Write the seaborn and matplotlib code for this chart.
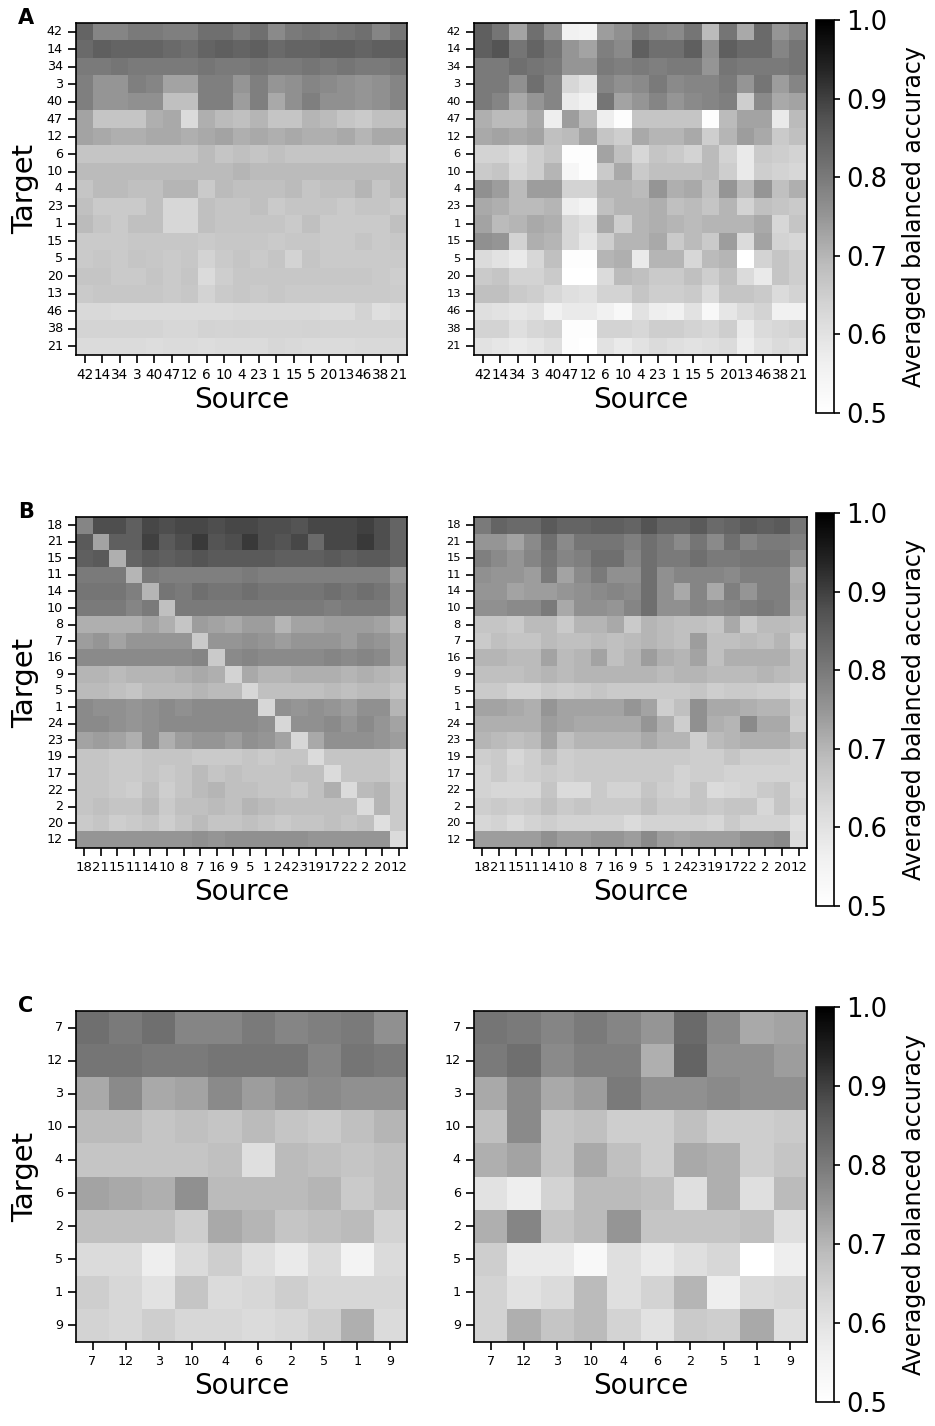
import matplotlib
matplotlib.use('Agg')
import matplotlib.pyplot as plt
import seaborn as sns
import pandas as pd

# ---------------------------------------------------------
# Datos: precisión balanceada promedio (fuente -> objetivo)
# ---------------------------------------------------------
labels_a = ['42', '14', '34', '3', '40', '47', '12', '6', '10', '4',
            '23', '1', '15', '5', '20', '13', '46', '38', '21']

acc_a_left = [
    [0.84, 0.78, 0.78, 0.80, 0.80, 0.79, 0.79, 0.82, 0.82, 0.80, 0.82, 0.77, 0.80, 0.81, 0.80, 0.81, 0.82, 0.78, 0.81],
    [0.83, 0.85, 0.84, 0.84, 0.84, 0.83, 0.82, 0.84, 0.85, 0.84, 0.85, 0.83, 0.84, 0.84, 0.85, 0.85, 0.84, 0.85, 0.85],
    [0.80, 0.80, 0.81, 0.80, 0.80, 0.80, 0.80, 0.81, 0.80, 0.80, 0.81, 0.80, 0.80, 0.81, 0.80, 0.81, 0.80, 0.80, 0.81],
    [0.79, 0.75, 0.75, 0.79, 0.78, 0.73, 0.73, 0.79, 0.79, 0.75, 0.79, 0.75, 0.76, 0.78, 0.77, 0.76, 0.75, 0.76, 0.78],
    [0.79, 0.75, 0.75, 0.76, 0.76, 0.68, 0.68, 0.79, 0.79, 0.74, 0.79, 0.72, 0.76, 0.79, 0.76, 0.76, 0.75, 0.76, 0.78],
    [0.73, 0.67, 0.67, 0.67, 0.71, 0.72, 0.62, 0.71, 0.69, 0.68, 0.70, 0.67, 0.67, 0.70, 0.69, 0.67, 0.66, 0.68, 0.68],
    [0.73, 0.72, 0.71, 0.71, 0.72, 0.72, 0.71, 0.72, 0.73, 0.71, 0.72, 0.71, 0.72, 0.71, 0.71, 0.72, 0.70, 0.72, 0.72],
    [0.67, 0.67, 0.67, 0.67, 0.67, 0.67, 0.67, 0.69, 0.67, 0.68, 0.67, 0.68, 0.67, 0.67, 0.67, 0.67, 0.67, 0.67, 0.65],
    [0.69, 0.69, 0.69, 0.69, 0.69, 0.69, 0.69, 0.69, 0.69, 0.70, 0.69, 0.69, 0.69, 0.69, 0.69, 0.69, 0.69, 0.69, 0.69],
    [0.67, 0.69, 0.69, 0.68, 0.68, 0.70, 0.70, 0.66, 0.69, 0.68, 0.68, 0.68, 0.69, 0.67, 0.68, 0.68, 0.70, 0.67, 0.69],
    [0.68, 0.66, 0.66, 0.66, 0.68, 0.63, 0.63, 0.68, 0.67, 0.67, 0.68, 0.66, 0.67, 0.67, 0.67, 0.66, 0.67, 0.67, 0.66],
    [0.69, 0.67, 0.66, 0.68, 0.68, 0.63, 0.63, 0.68, 0.67, 0.67, 0.67, 0.67, 0.66, 0.68, 0.66, 0.66, 0.66, 0.66, 0.68],
    [0.66, 0.66, 0.66, 0.665, 0.665, 0.665, 0.665, 0.66, 0.665, 0.665, 0.665, 0.66, 0.665, 0.665, 0.66, 0.66, 0.67, 0.66, 0.665],
    [0.66, 0.665, 0.66, 0.67, 0.665, 0.66, 0.665, 0.64, 0.66, 0.67, 0.66, 0.67, 0.64, 0.67, 0.66, 0.66, 0.66, 0.66, 0.66],
    [0.67, 0.67, 0.66, 0.66, 0.67, 0.66, 0.67, 0.62, 0.65, 0.665, 0.665, 0.665, 0.665, 0.665, 0.665, 0.665, 0.665, 0.66, 0.65],
    [0.66, 0.665, 0.665, 0.665, 0.665, 0.66, 0.665, 0.64, 0.66, 0.665, 0.66, 0.665, 0.66, 0.66, 0.66, 0.66, 0.66, 0.66, 0.655],
    [0.625, 0.625, 0.62, 0.62, 0.62, 0.62, 0.62, 0.62, 0.62, 0.625, 0.625, 0.625, 0.625, 0.625, 0.62, 0.62, 0.64, 0.61, 0.62],
    [0.635, 0.635, 0.635, 0.635, 0.635, 0.63, 0.63, 0.64, 0.635, 0.64, 0.635, 0.635, 0.635, 0.64, 0.635, 0.635, 0.635, 0.635, 0.635],
    [0.62, 0.62, 0.62, 0.62, 0.615, 0.62, 0.62, 0.615, 0.62, 0.62, 0.62, 0.63, 0.625, 0.62, 0.62, 0.62, 0.625, 0.625, 0.625],
]

acc_a_right = [
    [0.85, 0.81, 0.73, 0.82, 0.76, 0.56, 0.55, 0.74, 0.76, 0.80, 0.78, 0.77, 0.81, 0.69, 0.81, 0.72, 0.83, 0.75, 0.78],
    [0.85, 0.87, 0.81, 0.84, 0.81, 0.75, 0.73, 0.79, 0.77, 0.85, 0.82, 0.82, 0.85, 0.76, 0.85, 0.83, 0.83, 0.78, 0.81],
    [0.80, 0.80, 0.82, 0.81, 0.80, 0.75, 0.75, 0.80, 0.79, 0.80, 0.79, 0.80, 0.80, 0.75, 0.81, 0.80, 0.80, 0.80, 0.81],
    [0.80, 0.80, 0.76, 0.82, 0.78, 0.63, 0.60, 0.78, 0.76, 0.77, 0.80, 0.77, 0.78, 0.78, 0.80, 0.75, 0.81, 0.74, 0.78],
    [0.80, 0.78, 0.72, 0.75, 0.78, 0.58, 0.56, 0.81, 0.73, 0.75, 0.78, 0.75, 0.77, 0.78, 0.79, 0.65, 0.77, 0.72, 0.73],
    [0.71, 0.69, 0.69, 0.72, 0.57, 0.74, 0.69, 0.57, 0.51, 0.67, 0.67, 0.67, 0.67, 0.51, 0.69, 0.73, 0.73, 0.58, 0.69],
    [0.72, 0.73, 0.72, 0.73, 0.68, 0.69, 0.73, 0.67, 0.65, 0.72, 0.70, 0.70, 0.72, 0.65, 0.70, 0.74, 0.72, 0.66, 0.68],
    [0.64, 0.64, 0.62, 0.65, 0.67, 0.51, 0.51, 0.73, 0.68, 0.63, 0.67, 0.66, 0.64, 0.69, 0.64, 0.58, 0.66, 0.65, 0.64],
    [0.66, 0.67, 0.63, 0.65, 0.70, 0.54, 0.51, 0.66, 0.72, 0.66, 0.68, 0.68, 0.68, 0.69, 0.65, 0.58, 0.65, 0.64, 0.63],
    [0.76, 0.74, 0.69, 0.74, 0.74, 0.64, 0.64, 0.70, 0.70, 0.69, 0.75, 0.71, 0.72, 0.68, 0.75, 0.69, 0.75, 0.68, 0.71],
    [0.72, 0.71, 0.69, 0.69, 0.70, 0.57, 0.55, 0.68, 0.70, 0.70, 0.71, 0.68, 0.69, 0.67, 0.70, 0.64, 0.68, 0.67, 0.66],
    [0.73, 0.69, 0.70, 0.72, 0.71, 0.63, 0.61, 0.72, 0.65, 0.70, 0.71, 0.70, 0.69, 0.70, 0.70, 0.70, 0.72, 0.63, 0.67],
    [0.76, 0.75, 0.64, 0.71, 0.70, 0.63, 0.59, 0.65, 0.70, 0.70, 0.72, 0.66, 0.69, 0.66, 0.74, 0.62, 0.73, 0.64, 0.63],
    [0.62, 0.60, 0.58, 0.63, 0.68, 0.51, 0.51, 0.70, 0.71, 0.58, 0.70, 0.70, 0.63, 0.69, 0.70, 0.50, 0.64, 0.67, 0.65],
    [0.66, 0.67, 0.64, 0.64, 0.66, 0.50, 0.50, 0.62, 0.69, 0.68, 0.66, 0.66, 0.68, 0.65, 0.68, 0.62, 0.58, 0.67, 0.65],
    [0.68, 0.68, 0.66, 0.65, 0.63, 0.61, 0.60, 0.64, 0.64, 0.67, 0.65, 0.65, 0.66, 0.62, 0.67, 0.67, 0.66, 0.62, 0.64],
    [0.61, 0.60, 0.59, 0.60, 0.56, 0.58, 0.58, 0.56, 0.53, 0.60, 0.57, 0.56, 0.60, 0.53, 0.59, 0.62, 0.64, 0.56, 0.56],
    [0.64, 0.64, 0.61, 0.63, 0.64, 0.51, 0.51, 0.64, 0.64, 0.63, 0.65, 0.65, 0.64, 0.63, 0.65, 0.58, 0.62, 0.63, 0.64],
    [0.60, 0.59, 0.58, 0.59, 0.61, 0.51, 0.50, 0.60, 0.58, 0.60, 0.62, 0.61, 0.60, 0.61, 0.62, 0.57, 0.60, 0.62, 0.61],
]

labels_b = ['18', '21', '15', '11', '14', '10', '8', '7', '16', '9',
            '5', '1', '24', '23', '19', '17', '22', '2', '20', '12']

acc_b_left = [
    [0.78, 0.88, 0.88, 0.85, 0.89, 0.88, 0.89, 0.89, 0.88, 0.89, 0.89, 0.88, 0.88, 0.87, 0.89, 0.89, 0.89, 0.90, 0.88, 0.84],
    [0.86, 0.73, 0.85, 0.85, 0.90, 0.86, 0.88, 0.91, 0.87, 0.88, 0.91, 0.88, 0.87, 0.89, 0.83, 0.89, 0.89, 0.91, 0.88, 0.84],
    [0.85, 0.86, 0.71, 0.84, 0.86, 0.85, 0.86, 0.87, 0.86, 0.86, 0.86, 0.86, 0.85, 0.85, 0.85, 0.86, 0.85, 0.86, 0.86, 0.84],
    [0.80, 0.80, 0.80, 0.70, 0.80, 0.79, 0.79, 0.79, 0.79, 0.79, 0.80, 0.79, 0.79, 0.79, 0.79, 0.79, 0.79, 0.79, 0.79, 0.75],
    [0.81, 0.81, 0.81, 0.79, 0.70, 0.81, 0.80, 0.82, 0.81, 0.81, 0.82, 0.81, 0.81, 0.81, 0.81, 0.82, 0.81, 0.82, 0.81, 0.77],
    [0.80, 0.80, 0.80, 0.78, 0.80, 0.68, 0.80, 0.80, 0.80, 0.80, 0.80, 0.80, 0.80, 0.80, 0.80, 0.79, 0.80, 0.80, 0.80, 0.77],
    [0.71, 0.71, 0.71, 0.71, 0.73, 0.71, 0.67, 0.74, 0.73, 0.72, 0.74, 0.74, 0.70, 0.73, 0.73, 0.74, 0.74, 0.74, 0.73, 0.70],
    [0.74, 0.75, 0.73, 0.75, 0.75, 0.75, 0.75, 0.66, 0.75, 0.75, 0.76, 0.75, 0.74, 0.75, 0.75, 0.75, 0.74, 0.76, 0.75, 0.73],
    [0.77, 0.77, 0.77, 0.77, 0.77, 0.77, 0.77, 0.78, 0.66, 0.77, 0.78, 0.77, 0.77, 0.77, 0.77, 0.78, 0.77, 0.78, 0.77, 0.73],
    [0.70, 0.70, 0.69, 0.70, 0.70, 0.70, 0.71, 0.72, 0.71, 0.64, 0.72, 0.70, 0.70, 0.71, 0.71, 0.71, 0.70, 0.71, 0.70, 0.69],
    [0.69, 0.69, 0.68, 0.67, 0.69, 0.69, 0.69, 0.70, 0.69, 0.69, 0.63, 0.68, 0.68, 0.68, 0.68, 0.69, 0.68, 0.69, 0.69, 0.67],
    [0.77, 0.76, 0.76, 0.75, 0.76, 0.77, 0.76, 0.77, 0.77, 0.77, 0.77, 0.63, 0.76, 0.75, 0.76, 0.75, 0.74, 0.76, 0.76, 0.70],
    [0.77, 0.77, 0.76, 0.75, 0.76, 0.77, 0.77, 0.77, 0.77, 0.77, 0.77, 0.76, 0.63, 0.76, 0.76, 0.77, 0.75, 0.77, 0.75, 0.73],
    [0.73, 0.74, 0.73, 0.71, 0.76, 0.71, 0.74, 0.75, 0.75, 0.74, 0.76, 0.75, 0.73, 0.63, 0.72, 0.76, 0.76, 0.76, 0.75, 0.74],
    [0.67, 0.67, 0.66, 0.66, 0.67, 0.67, 0.67, 0.66, 0.66, 0.66, 0.67, 0.66, 0.67, 0.67, 0.62, 0.67, 0.67, 0.67, 0.67, 0.65],
    [0.67, 0.67, 0.66, 0.66, 0.67, 0.66, 0.67, 0.69, 0.67, 0.68, 0.67, 0.67, 0.67, 0.68, 0.68, 0.62, 0.67, 0.67, 0.67, 0.65],
    [0.67, 0.67, 0.66, 0.65, 0.68, 0.65, 0.67, 0.69, 0.70, 0.68, 0.68, 0.67, 0.67, 0.66, 0.68, 0.71, 0.62, 0.69, 0.70, 0.66],
    [0.67, 0.68, 0.67, 0.67, 0.69, 0.66, 0.68, 0.68, 0.69, 0.68, 0.70, 0.69, 0.68, 0.68, 0.68, 0.68, 0.68, 0.62, 0.70, 0.66],
    [0.66, 0.67, 0.65, 0.66, 0.67, 0.65, 0.67, 0.69, 0.67, 0.67, 0.68, 0.67, 0.66, 0.67, 0.67, 0.68, 0.67, 0.68, 0.61, 0.66],
    [0.75, 0.75, 0.75, 0.75, 0.75, 0.75, 0.75, 0.76, 0.75, 0.76, 0.76, 0.76, 0.76, 0.76, 0.75, 0.75, 0.75, 0.75, 0.75, 0.62],
]

acc_b_right = [
    [0.80, 0.84, 0.83, 0.83, 0.86, 0.84, 0.84, 0.85, 0.85, 0.84, 0.87, 0.84, 0.84, 0.86, 0.83, 0.84, 0.86, 0.85, 0.86, 0.81],
    [0.75, 0.75, 0.73, 0.77, 0.82, 0.77, 0.81, 0.81, 0.81, 0.79, 0.82, 0.80, 0.77, 0.81, 0.77, 0.82, 0.78, 0.80, 0.80, 0.79],
    [0.79, 0.77, 0.75, 0.78, 0.81, 0.78, 0.79, 0.82, 0.82, 0.78, 0.82, 0.80, 0.80, 0.82, 0.80, 0.80, 0.81, 0.81, 0.81, 0.76],
    [0.76, 0.75, 0.75, 0.74, 0.80, 0.73, 0.77, 0.80, 0.76, 0.76, 0.82, 0.76, 0.78, 0.78, 0.78, 0.77, 0.79, 0.79, 0.79, 0.71],
    [0.75, 0.75, 0.73, 0.74, 0.74, 0.75, 0.76, 0.77, 0.78, 0.77, 0.82, 0.76, 0.72, 0.78, 0.72, 0.79, 0.75, 0.79, 0.79, 0.72],
    [0.76, 0.76, 0.77, 0.77, 0.80, 0.72, 0.76, 0.76, 0.75, 0.78, 0.82, 0.76, 0.76, 0.78, 0.77, 0.78, 0.79, 0.80, 0.79, 0.71],
    [0.67, 0.67, 0.66, 0.69, 0.69, 0.66, 0.70, 0.70, 0.72, 0.66, 0.70, 0.69, 0.68, 0.68, 0.67, 0.72, 0.66, 0.69, 0.69, 0.68],
    [0.66, 0.68, 0.67, 0.67, 0.69, 0.68, 0.68, 0.69, 0.68, 0.69, 0.70, 0.69, 0.68, 0.74, 0.68, 0.68, 0.69, 0.68, 0.70, 0.65],
    [0.70, 0.70, 0.69, 0.69, 0.73, 0.69, 0.70, 0.73, 0.68, 0.70, 0.74, 0.71, 0.70, 0.73, 0.68, 0.71, 0.71, 0.71, 0.71, 0.68],
    [0.68, 0.68, 0.68, 0.69, 0.70, 0.69, 0.70, 0.70, 0.70, 0.70, 0.70, 0.69, 0.70, 0.70, 0.69, 0.69, 0.69, 0.70, 0.69, 0.68],
    [0.66, 0.66, 0.64, 0.64, 0.66, 0.65, 0.66, 0.67, 0.66, 0.66, 0.66, 0.66, 0.66, 0.67, 0.65, 0.66, 0.66, 0.65, 0.65, 0.63],
    [0.73, 0.73, 0.72, 0.71, 0.75, 0.73, 0.73, 0.73, 0.73, 0.75, 0.73, 0.65, 0.68, 0.76, 0.72, 0.72, 0.71, 0.70, 0.70, 0.66],
    [0.71, 0.71, 0.71, 0.71, 0.74, 0.73, 0.72, 0.72, 0.72, 0.72, 0.75, 0.71, 0.65, 0.76, 0.71, 0.70, 0.77, 0.72, 0.72, 0.65],
    [0.70, 0.69, 0.68, 0.69, 0.73, 0.68, 0.70, 0.70, 0.70, 0.70, 0.72, 0.70, 0.70, 0.65, 0.69, 0.70, 0.71, 0.71, 0.71, 0.69],
    [0.65, 0.66, 0.63, 0.65, 0.68, 0.65, 0.66, 0.66, 0.66, 0.66, 0.66, 0.66, 0.66, 0.65, 0.65, 0.67, 0.65, 0.65, 0.65, 0.64],
    [0.64, 0.66, 0.64, 0.65, 0.66, 0.65, 0.66, 0.66, 0.66, 0.66, 0.66, 0.66, 0.64, 0.65, 0.65, 0.64, 0.64, 0.64, 0.64, 0.64],
    [0.64, 0.63, 0.63, 0.63, 0.67, 0.62, 0.62, 0.66, 0.64, 0.64, 0.67, 0.65, 0.64, 0.67, 0.62, 0.63, 0.64, 0.66, 0.67, 0.63],
    [0.65, 0.66, 0.65, 0.66, 0.68, 0.66, 0.67, 0.66, 0.66, 0.66, 0.68, 0.66, 0.66, 0.67, 0.66, 0.67, 0.67, 0.63, 0.67, 0.64],
    [0.63, 0.64, 0.62, 0.64, 0.65, 0.64, 0.64, 0.64, 0.64, 0.62, 0.64, 0.64, 0.64, 0.64, 0.63, 0.66, 0.64, 0.64, 0.64, 0.61],
    [0.74, 0.74, 0.74, 0.74, 0.76, 0.74, 0.74, 0.75, 0.75, 0.74, 0.77, 0.74, 0.73, 0.74, 0.74, 0.74, 0.76, 0.76, 0.77, 0.62],
]

labels_c = ['7', '12', '3', '10', '4', '6', '2', '5', '1', '9']

acc_c_left = [
    [0.82, 0.80, 0.82, 0.78, 0.78, 0.80, 0.78, 0.79, 0.80, 0.76],
    [0.81, 0.81, 0.80, 0.80, 0.81, 0.81, 0.81, 0.78, 0.81, 0.80],
    [0.72, 0.77, 0.72, 0.73, 0.77, 0.74, 0.76, 0.77, 0.76, 0.76],
    [0.69, 0.69, 0.67, 0.68, 0.67, 0.69, 0.67, 0.66, 0.68, 0.70],
    [0.67, 0.67, 0.67, 0.67, 0.68, 0.61, 0.69, 0.68, 0.67, 0.68],
    [0.73, 0.72, 0.71, 0.76, 0.69, 0.69, 0.69, 0.70, 0.66, 0.68],
    [0.68, 0.68, 0.68, 0.65, 0.72, 0.70, 0.67, 0.68, 0.69, 0.64],
    [0.62, 0.62, 0.57, 0.62, 0.65, 0.61, 0.58, 0.62, 0.55, 0.62],
    [0.65, 0.63, 0.60, 0.67, 0.62, 0.63, 0.65, 0.63, 0.63, 0.63],
    [0.64, 0.63, 0.65, 0.63, 0.63, 0.62, 0.63, 0.65, 0.71, 0.62],
]

acc_c_right = [
    [0.81, 0.80, 0.78, 0.80, 0.78, 0.75, 0.83, 0.77, 0.72, 0.73],
    [0.80, 0.82, 0.77, 0.79, 0.79, 0.71, 0.84, 0.76, 0.76, 0.74],
    [0.72, 0.77, 0.72, 0.74, 0.80, 0.76, 0.76, 0.77, 0.76, 0.76],
    [0.68, 0.77, 0.67, 0.68, 0.65, 0.65, 0.68, 0.65, 0.65, 0.66],
    [0.71, 0.73, 0.67, 0.72, 0.68, 0.65, 0.72, 0.71, 0.65, 0.67],
    [0.60, 0.57, 0.64, 0.69, 0.69, 0.68, 0.61, 0.71, 0.61, 0.69],
    [0.71, 0.78, 0.67, 0.69, 0.75, 0.67, 0.67, 0.67, 0.68, 0.61],
    [0.65, 0.58, 0.58, 0.53, 0.61, 0.58, 0.61, 0.63, 0.50, 0.57],
    [0.64, 0.60, 0.62, 0.69, 0.61, 0.64, 0.70, 0.57, 0.62, 0.63],
    [0.64, 0.71, 0.67, 0.69, 0.64, 0.60, 0.66, 0.65, 0.72, 0.61],
]

cbar_ticks = [0.5, 0.6, 0.7, 0.8, 0.9, 1.0]

W, H = 935, 1426


def px_rect(x0, y0, x1, y1):
    # convierte un rectángulo en píxeles (origen arriba-izq) a coords de figura
    return [x0 / W, 1 - y1 / H, (x1 - x0) / W, (y1 - y0) / H]


def draw_heatmap(ax, values, labels, xfs, yfs, show_ylabel):
    df = pd.DataFrame(values, index=labels, columns=labels)
    sns.heatmap(df, ax=ax, cmap='Greys', vmin=0.5, vmax=1.0, cbar=False,
                xticklabels=True, yticklabels=True)
    for s in ax.spines.values():
        s.set_visible(True)
        s.set_linewidth(1.2)
        s.set_color('black')
    ax.tick_params(axis='both', direction='out', length=6, width=1.2, color='black')
    ax.set_xticklabels(labels, rotation=0, fontsize=xfs)
    ax.set_yticklabels(labels, rotation=0, fontsize=yfs)
    ax.set_xlabel('Source', fontsize=20, labelpad=3)
    if show_ylabel:
        ax.set_ylabel('Target', fontsize=21, labelpad=5)
    else:
        ax.set_ylabel('')


fig = plt.figure(figsize=(W / 100, H / 100), dpi=100)

# (letra, etiquetas, izq, der, y0, y1, colorbar y0, colorbar y1, fuentes de ticks)
rows = [
    ('A', labels_a, acc_a_left, acc_a_right, 23, 355, 20, 413, (9.8, 9.2, 9.8, 8.2)),
    ('B', labels_b, acc_b_left, acc_b_right, 517, 848, 513, 906, (9.5, 9.2, 9.5, 8.2)),
    ('C', labels_c, acc_c_left, acc_c_right, 1011, 1342, 1007, 1402, (9.2, 9.2, 9.2, 9.2)),
]

for letter, labels, left_vals, right_vals, y0, y1, cy0, cy1, fs in rows:
    ax_l = fig.add_axes(px_rect(76, y0, 407, y1))
    ax_r = fig.add_axes(px_rect(474, y0, 807, y1))
    draw_heatmap(ax_l, left_vals, labels, fs[0], fs[1], True)
    draw_heatmap(ax_r, right_vals, labels, fs[2], fs[3], False)

    cax = fig.add_axes(px_rect(816, cy0, 834, cy1))
    cb = fig.colorbar(ax_r.collections[0], cax=cax, ticks=cbar_ticks)
    cb.outline.set_linewidth(1.2)
    cax.tick_params(labelsize=18.5, length=4, width=1.2, pad=5)
    cb.set_label('Averaged balanced accuracy', fontsize=17, labelpad=10)

    fig.text(18 / W, 1 - (y0 - 5) / H, letter, fontsize=15, fontweight='bold',
             va='center', ha='left')

fig.savefig('out.png', dpi=100)
